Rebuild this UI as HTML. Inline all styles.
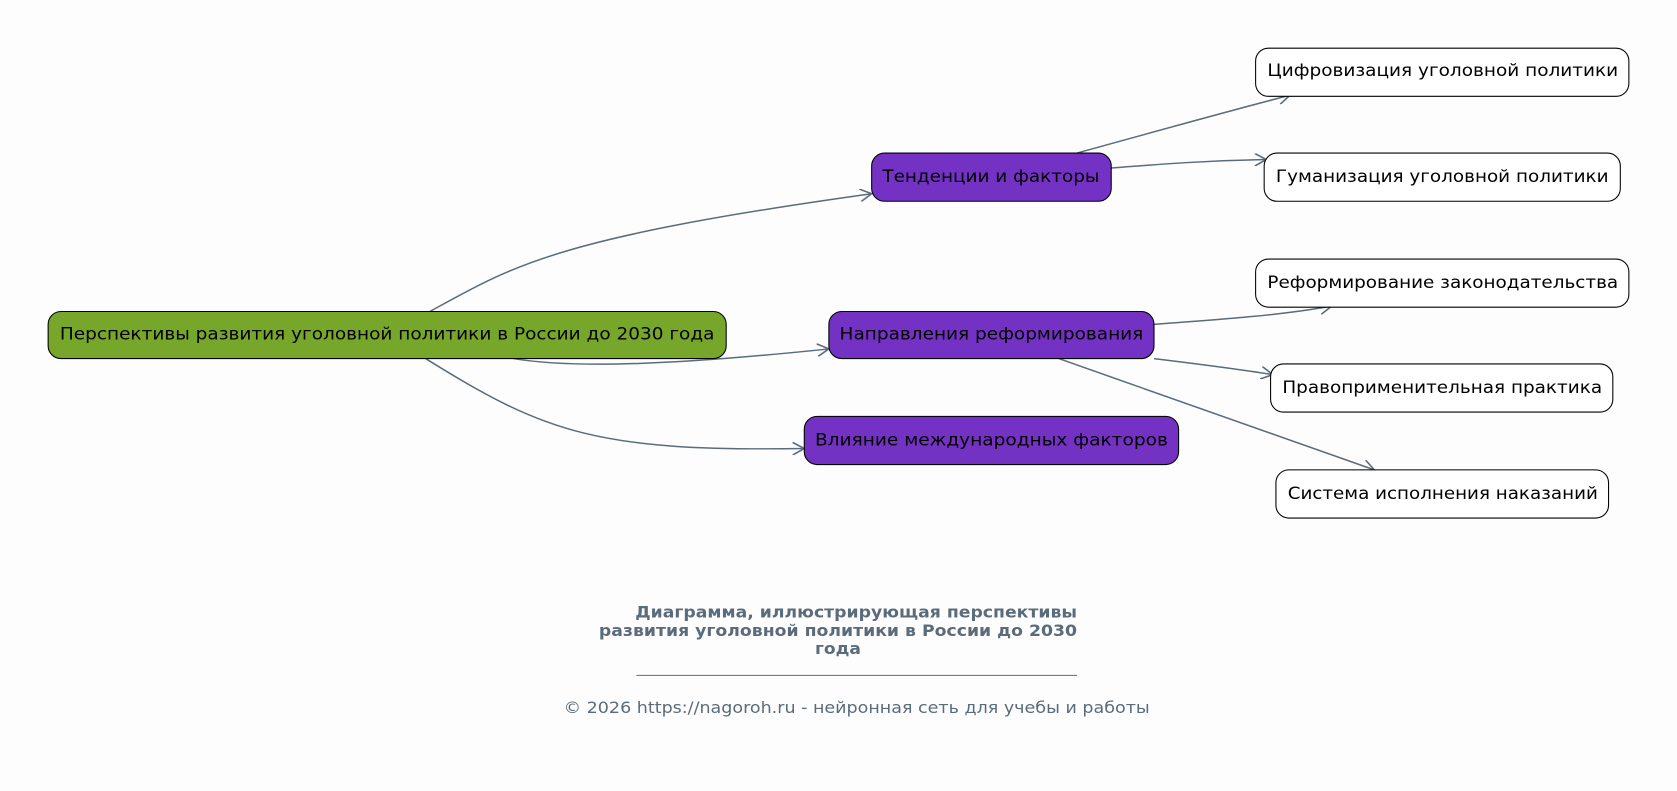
<!DOCTYPE html>
<html><head><meta charset="utf-8"><style>
html,body{margin:0;padding:0;background:#fdfdfd;}
svg{display:block;}
text{font-family:"DejaVu Sans","Liberation Sans",sans-serif;}
</style></head><body>
<svg width="1677" height="791" viewBox="0 0 1568 739" preserveAspectRatio="none" xmlns="http://www.w3.org/2000/svg">
<defs>
<marker id="a" viewBox="0 0 12 12" refX="11" refY="6" markerWidth="12" markerHeight="12" markerUnits="userSpaceOnUse" orient="auto">
<path d="M0,0 L11,6 L0,12" fill="none" stroke="#5a6b7b" stroke-width="1.5"/>
</marker>
</defs>
<rect width="1568" height="739" fill="#fdfdfd"/>
<g fill="none" stroke="#5a6b7b" stroke-width="1.4" marker-end="url(#a)">
<path d="M402,291 C480,248 520,222 815,181"/>
<path d="M480,335 C540,345 640,340 775,326"/>
<path d="M398,335 C510,405 560,422 752,419"/>
<path d="M1007,143 C1080,123 1140,106 1206,89"/>
<path d="M1039,157 C1090,153 1130,150 1184,149"/>
<path d="M1079,303 C1150,298 1200,294 1245,286"/>
<path d="M1079,335 C1120,340 1160,345 1190,350"/>
<path d="M990,335 C1080,366 1180,401 1285,439"/>
</g>
<g stroke="#000" stroke-width="1">
<rect x="45" y="291" width="634" height="44" rx="12" fill="#76a72a"/>
<rect x="815" y="143" width="224" height="45" rx="12" fill="#7432c4"/>
<rect x="775" y="291" width="304" height="44" rx="12" fill="#7432c4"/>
<rect x="752" y="389" width="350" height="45" rx="12" fill="#7432c4"/>
<rect x="1174" y="45" width="349" height="45" rx="12" fill="#fff"/>
<rect x="1182" y="143" width="333" height="45" rx="12" fill="#fff"/>
<rect x="1174" y="242" width="349" height="45" rx="12" fill="#fff"/>
<rect x="1188" y="340" width="320" height="45" rx="12" fill="#fff"/>
<rect x="1193" y="439" width="311" height="45" rx="12" fill="#fff"/>
</g>
<g font-size="16" fill="#000">
<text x="56" y="317" textLength="612" lengthAdjust="spacingAndGlyphs">Перспективы развития уголовной политики в России до 2030 года</text>
<text x="825" y="170" textLength="203" lengthAdjust="spacingAndGlyphs">Тенденции и факторы</text>
<text x="785" y="317" textLength="284" lengthAdjust="spacingAndGlyphs">Направления реформирования</text>
<text x="762" y="416" textLength="330" lengthAdjust="spacingAndGlyphs">Влияние международных факторов</text>
<text x="1185" y="71" textLength="328" lengthAdjust="spacingAndGlyphs">Цифровизация уголовной политики</text>
<text x="1193" y="170" textLength="311" lengthAdjust="spacingAndGlyphs">Гуманизация уголовной политики</text>
<text x="1185" y="269" textLength="328" lengthAdjust="spacingAndGlyphs">Реформирование законодательства</text>
<text x="1199" y="367" textLength="299" lengthAdjust="spacingAndGlyphs">Правоприменительная практика</text>
<text x="1204" y="466" textLength="290" lengthAdjust="spacingAndGlyphs">Система исполнения наказаний</text>
</g>
<g font-size="15" font-weight="bold" fill="#5a6b7b">
<text x="594" y="577" textLength="413" lengthAdjust="spacingAndGlyphs">Диаграмма, иллюстрирующая перспективы</text>
<text x="560" y="594" textLength="447" lengthAdjust="spacingAndGlyphs">развития уголовной политики в России до 2030</text>
<text x="762" y="611" textLength="43" lengthAdjust="spacingAndGlyphs">года</text>
</g>
<line x1="595" y1="631" x2="1007" y2="631" stroke="#5a6b7b" stroke-width="1"/>
<text x="527" y="666" font-size="15" fill="#5a6b7b" textLength="548" lengthAdjust="spacingAndGlyphs">© 2026 https://nagoroh.ru - нейронная сеть для учебы и работы</text>
</svg>
</body></html>
